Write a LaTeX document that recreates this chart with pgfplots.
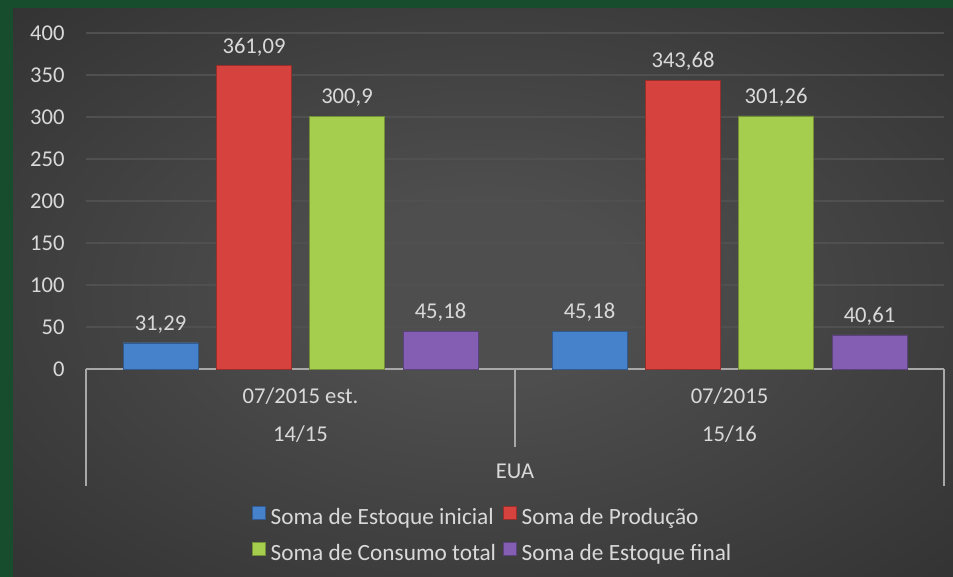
\documentclass[border=0pt]{standalone}
\usepackage{fontspec}
\setmainfont{Carlito}
\usepackage{pgfplots}
\pgfplotsset{compat=1.18}
\definecolor{bggreen}{HTML}{174C2D}
\definecolor{panelin}{HTML}{4E4E4E}
\definecolor{panelout}{HTML}{252525}
\definecolor{gridc}{HTML}{505050}
\definecolor{axisc}{HTML}{A8A8A8}
\definecolor{txt}{HTML}{D9D9D9}
\definecolor{cblue}{HTML}{4682CC}
\definecolor{cred}{HTML}{D6423E}
\definecolor{cgreen}{HTML}{A5CE4E}
\definecolor{cpurple}{HTML}{835EB2}
\pgfdeclareradialshading{panel}{\pgfpoint{0bp}{0bp}}{color(0bp)=(panelin); color(8bp)=(panelin); color(50bp)=(panelout)}
\newcommand\chartfont{\fontsize{22.6bp}{27bp}\selectfont}
\newcommand\legfont{\fontsize{23.3bp}{28bp}\selectfont}
\pgfplotsset{sq/.style={legend image code/.code={\draw[##1,line width=0.6bp] (0bp,-2bp) rectangle (13bp,11bp);}}}
\begin{document}
\begin{tikzpicture}
\useasboundingbox (0,0) rectangle (953bp,577bp);
\fill[bggreen] (0,0) rectangle (953bp,577bp);
\shade[shading=panel] (13bp,0) rectangle (953bp,568bp);
\begin{axis}[
  at={(86bp,208bp)}, anchor=south west,
  scale only axis, width=858bp, height=336bp,
  xmin=0, xmax=2, ymin=0, ymax=400,
  ytick={0,50,...,400}, xtick=\empty,
  axis lines*=left,
  y axis line style={draw=none},
  x axis line style={draw=axisc, line width=1.5bp},
  ymajorgrids, grid style={draw=gridc, line width=1.2bp},
  major tick length=0pt, tick style={draw=none},
  yticklabel style={font=\chartfont, text=txt, xshift=-18bp},
  /pgf/number format/assume math mode=true,
  ybar, bar width=75bp,
  nodes near coords={\pgfmathprintnumber[use comma,fixed,precision=2,assume math mode=true]{\pgfplotspointmeta}},
  every node near coord/.append style={font=\chartfont, text=txt, yshift=6bp},
  clip=false,
  legend columns=2, legend cell align=left,
  legend style={at={(0.474,-0.494)}, anchor=center, draw=none, fill=none,
    font=\legfont, text=txt, row sep=14bp,
    nodes={inner xsep=2.5bp},
    /tikz/every odd column/.append style={column sep=3bp},
    /tikz/every even column/.append style={column sep=4bp}},
]
\addplot[fill=cblue, draw=cblue!70!black, bar shift=-140bp, sq] coordinates {(0.5,31.29) (1.5,45.18)};
\addplot[fill=cred, draw=cred!70!black, bar shift=-46.5bp, sq] coordinates {(0.5,361.09) (1.5,343.68)};
\addplot[fill=cgreen, draw=cgreen!70!black, bar shift=46.5bp, sq] coordinates {(0.5,300.9) (1.5,301.26)};
\addplot[fill=cpurple, draw=cpurple!70!black, bar shift=140bp, sq] coordinates {(0.5,45.18) (1.5,40.61)};
\legend{Soma de Estoque inicial, Soma de Produção, Soma de Consumo total, Soma de Estoque final}
\draw[axisc, line width=1.5bp] (axis cs:0,0) -- ++(0,-117bp);
\draw[axisc, line width=1.5bp] (axis cs:1,0) -- ++(0,-78bp);
\draw[axisc, line width=1.5bp] (axis cs:2,0) -- ++(0,-117bp);
\node[font=\chartfont, text=txt] at (axis cs:0.5,0) [yshift=-27bp] {07/2015 est.};
\node[font=\chartfont, text=txt] at (axis cs:0.5,0) [yshift=-65bp] {14/15};
\node[font=\chartfont, text=txt] at (axis cs:1.5,0) [yshift=-27bp] {07/2015};
\node[font=\chartfont, text=txt] at (axis cs:1.5,0) [yshift=-65bp] {15/16};
\node[font=\chartfont, text=txt] at (axis cs:1,0) [yshift=-102bp] {EUA};
\end{axis}
\end{tikzpicture}
\end{document}
